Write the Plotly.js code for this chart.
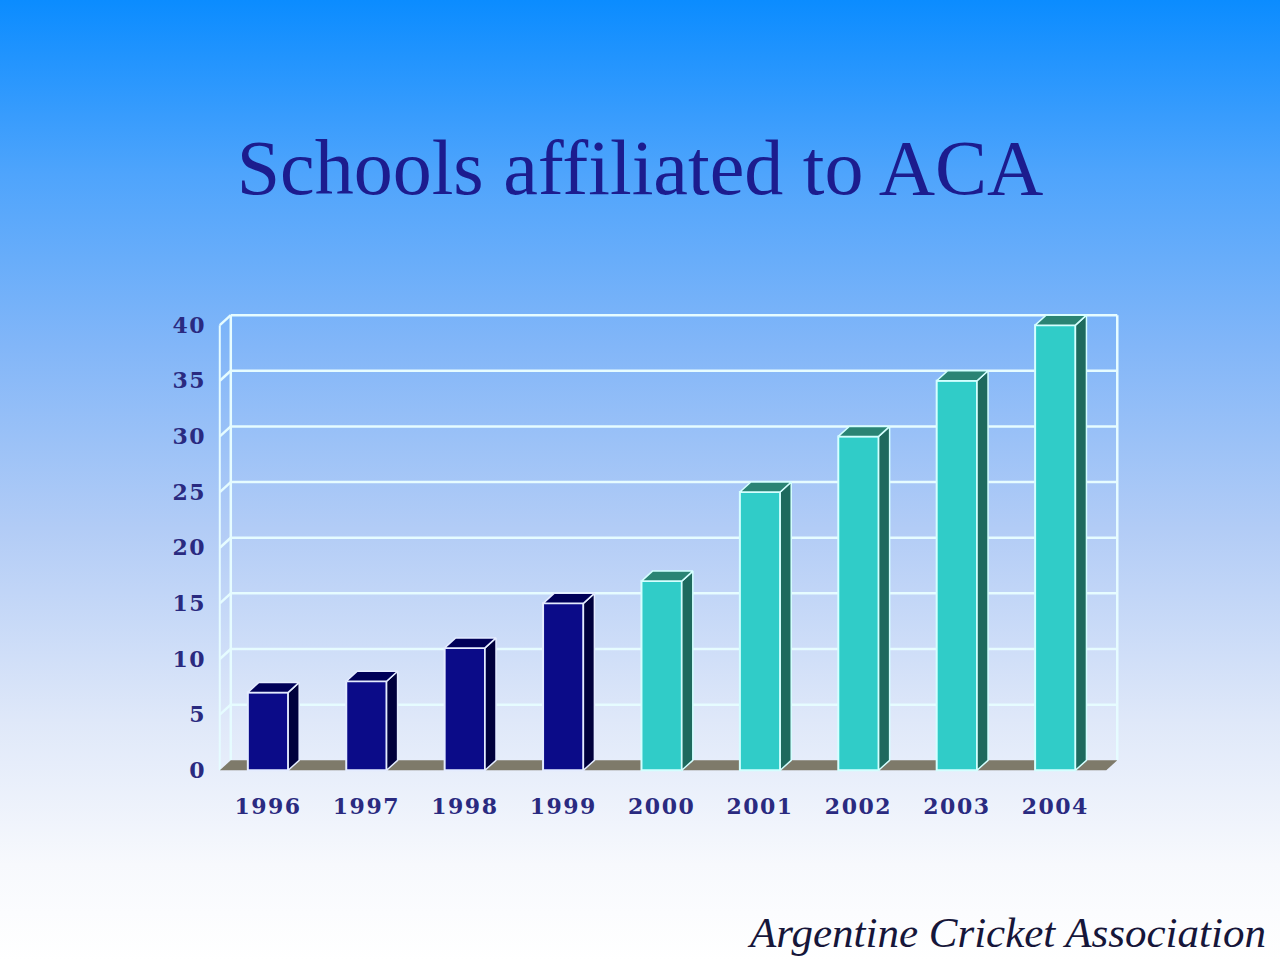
<!DOCTYPE html>
<html>
<head>
<meta charset="utf-8">
<script src="https://cdn.plot.ly/plotly-3.0.1.min.js"></script>
<style>
  html, body { margin: 0; padding: 0; }
  body {
    width: 1280px; height: 961px; overflow: hidden;
    background: linear-gradient(to bottom, #0b8cff 0%, #4ea4fc 18%, #82b6f8 36%, #b2ccf6 55%, #dfe8f9 75%, #f7f9fd 90%, #ffffff 100%);
  }
  #myDiv .xtick text, #myDiv .ytick text { letter-spacing: 1.5px; }
</style>
</head>
<body>
<div id="myDiv" style="width:1280px;height:961px;"></div>
<script>
var years = ['1996', '1997', '1998', '1999', '2000', '2001', '2002', '2003', '2004'];
var schools = [7, 8, 11, 15, 17, 25, 30, 35, 40];
var yTicks = [0, 5, 10, 15, 20, 25, 30, 35, 40];
var firstTealYear = '2000';

function draw(){
	var W = 1280, H = 961;
	var m = {l: 207, r: 146, t: 314, b: 174};
	var xr = [-0.62, 8.8], yr = [-1.5, 41];
	var pxX = (W - m.l - m.r) / (xr[1] - xr[0]);
	var pxY = (H - m.t - m.b) / (yr[1] - yr[0]);

	// depth of the fake 3d box, 11px right and 10px up
	var dx = 11 / pxX, dy = 10 / pxY;
	var barW = 0.41;
	var wallL = -0.49, wallR = 8.63;
	var top = yTicks[yTicks.length - 1];
	var serif = '"Liberation Serif"';
	var tickFont = {family: '"DejaVu Serif"', size: 22, color: '#2a2a80', weight: 'bold'};

	var navy = {front: '#0b0b88', side: '#00003c', top: '#000058', line: '#e4ecff'};
	var teal = {front: '#30ccc8', side: '#1e6a5e', top: '#2a8474', line: '#d4ffff'};
	var gridColor = '#e6fcff';

	var xs = [], colors = [], lineColors = [];
	var tealStart = years.indexOf(firstTealYear);
	for (var i = 0; i < years.length; i++) {
		xs.push(i);
		var c = i < tealStart ? navy : teal;
		colors.push(c.front);
		lineColors.push(c.line);
	}

	// side and top faces, one trace per colour group
	function faces(group, which) {
		var fx = [], fy = [];
		for (var i = 0; i < years.length; i++) {
			if ((i < tealStart) != (group === navy)) continue;
			var l = i - barW / 2, r = i + barW / 2, v = schools[i];
			if (which == 'side') {
				fx.push(r, r, r + dx, r + dx, r, null);
				fy.push(0, v, v + dy, dy, 0, null);
			} else {
				fx.push(l, r, r + dx, l + dx, l, null);
				fy.push(v, v, v + dy, v + dy, v, null);
			}
		}
		return {
			x: fx, y: fy, type: 'scatter', mode: 'lines', fill: 'toself',
			fillcolor: group[which], line: {color: group.line, width: 1.5},
			hoverinfo: 'skip', showlegend: false
		};
	}

	var front = {
		x: xs, y: schools, type: 'bar', width: barW,
		marker: {color: colors, line: {color: lineColors, width: 2}},
		hovertext: years, hoverinfo: 'text+y', textposition: 'none', showlegend: false
	};

	var shapes = [];
	// back wall grid + left side wall
	yTicks.forEach(function(v) {
		if (v == 0) return;
		shapes.push({type: 'line', layer: 'below', x0: wallL + dx, x1: wallR, y0: v + dy, y1: v + dy,
			line: {color: gridColor, width: 2.5}});
		shapes.push({type: 'line', layer: 'below', x0: wallL, x1: wallL + dx, y0: v, y1: v + dy,
			line: {color: gridColor, width: 2.5}});
	});
	shapes.push({type: 'line', layer: 'below', x0: wallL, x1: wallL, y0: 0, y1: top, line: {color: gridColor, width: 2}});
	shapes.push({type: 'line', layer: 'below', x0: wallL + dx, x1: wallL + dx, y0: dy, y1: top + dy, line: {color: gridColor, width: 2.5}});
	shapes.push({type: 'line', layer: 'below', x0: wallR, x1: wallR, y0: dy, y1: top + dy, line: {color: gridColor, width: 2.5}});
	// floor
	shapes.push({type: 'path', layer: 'below',
		path: 'M' + wallL + ',0 L' + (wallR - dx) + ',0 L' + wallR + ',' + dy + ' L' + (wallL + dx) + ',' + dy + ' Z',
		fillcolor: '#7e7a6a', line: {width: 0}});

	function paperX(px) { return (px - m.l) / (W - m.l - m.r); }
	function paperY(py) { return (H - m.b - py) / (H - m.t - m.b); }

	var layout = {
		width: W, height: H, margin: m,
		paper_bgcolor: 'rgba(0,0,0,0)', plot_bgcolor: 'rgba(0,0,0,0)',
		title: {
			text: 'Schools affiliated to ACA',
			font: {family: serif, size: 78, color: '#1c1c8e'},
			x: 0.5, xanchor: 'center', xref: 'container',
			y: 1 - 167 / H, yanchor: 'middle', yref: 'container'
		},
		xaxis: {
			range: xr, tickvals: xs, ticktext: years, showgrid: false, zeroline: false,
			showline: false, ticks: '', fixedrange: true, ticklabelstandoff: 4,
			tickfont: tickFont
		},
		yaxis: {
			range: yr, tickvals: yTicks, showgrid: false, zeroline: false, showline: false,
			ticks: '', fixedrange: true,
			tickfont: tickFont
		},
		shapes: shapes,
		annotations: [{
			text: 'Argentine Cricket Association', showarrow: false,
			xref: 'paper', yref: 'paper', x: paperX(1268), y: paperY(932),
			xanchor: 'right', yanchor: 'middle',
			font: {family: serif, size: 43, color: '#16163a', style: 'italic'}
		}]
	};

	var data = [front, faces(navy, 'side'), faces(navy, 'top'), faces(teal, 'side'), faces(teal, 'top')];
	Plotly.newPlot('myDiv', data, layout, {displayModeBar: false});
}
draw();
</script>
</body>
</html>
